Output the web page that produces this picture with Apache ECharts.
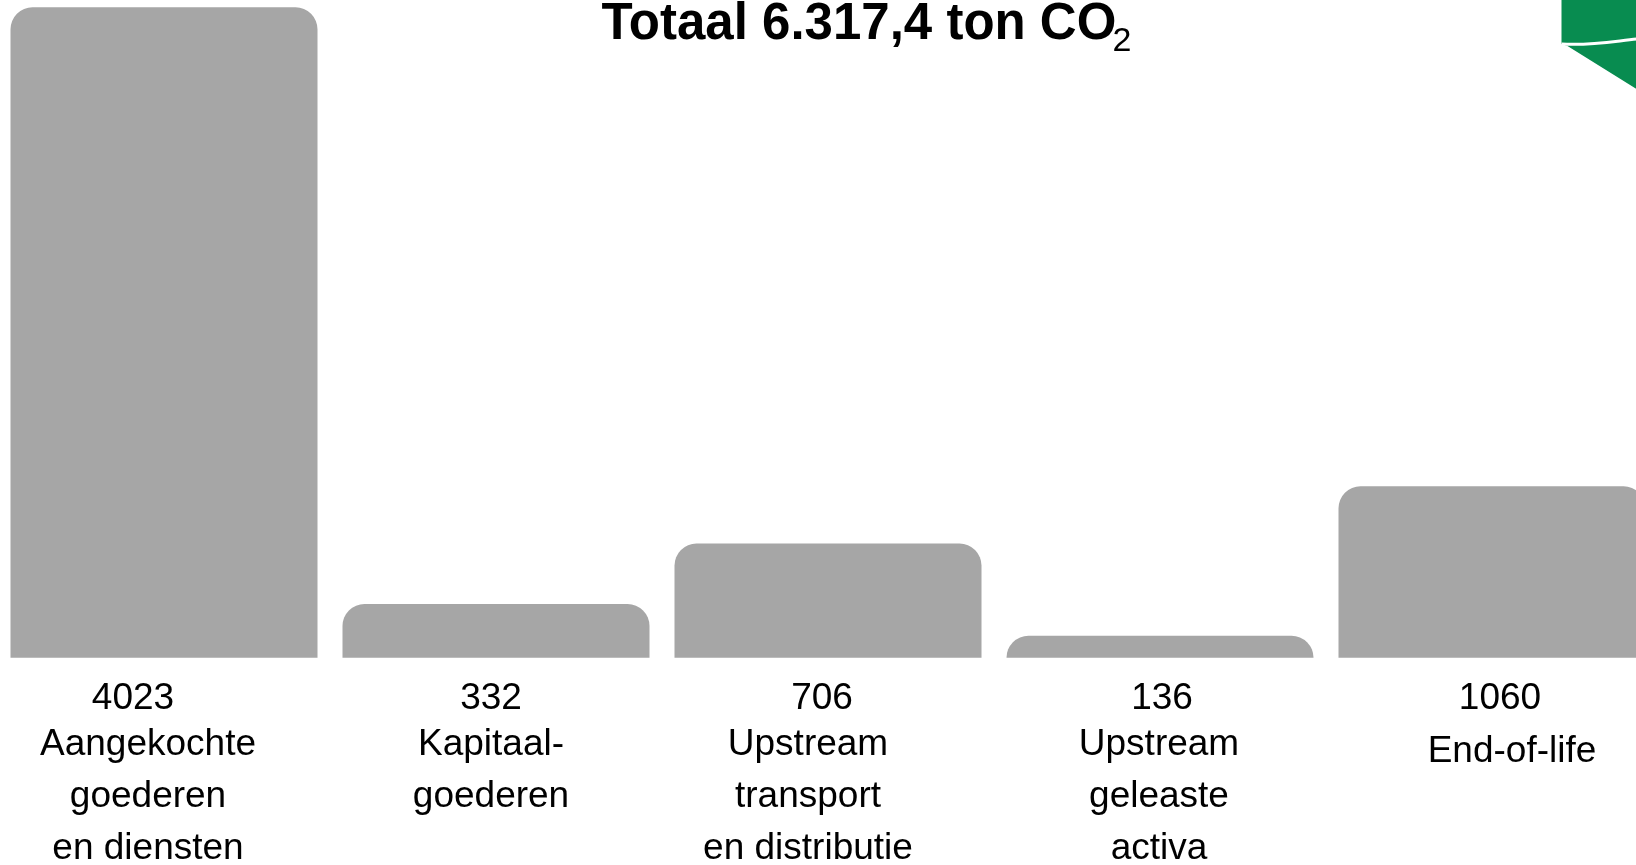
<!DOCTYPE html>
<html>
<head>
<meta charset="utf-8">
<script src="https://cdn.jsdelivr.net/npm/echarts@6/dist/echarts.min.js"></script>
<style>
html,body{margin:0;padding:0;background:#fff;overflow:hidden;width:1636px;height:865px;}
#chart{position:absolute;left:-2.5px;top:0;width:1660px;height:865px;}
</style>
</head>
<body>
<div id="chart"></div>
<script>
// ---- data ----
var categories = [
  'Aangekochte\ngoederen\nen diensten',
  'Kapitaal-\ngoederen',
  'Upstream\ntransport\nen distributie',
  'Upstream\ngeleaste\nactiva',
  'End-of-life'
];
var values = [4023, 332, 706, 136, 1060];
var titleMain = 'Totaal 6.317,4 ton CO';
var titleSub = '2';

// ---- label styling (shift of number / name relative to bar centre, px) ----
var numShift = [-31, -5, -6, 2, 8];
var nameShift = [-16, -5, -20, -1, 20];
var nameDrop = [0, 0, 0, 0, 14];
var OX = 2.5; // container is shifted left by this many px

var FONT = '"Liberation Sans", Arial, sans-serif';
var rich = {};
for (var i = 0; i < categories.length; i++) {
  var ns = numShift[i], cs = nameShift[i];
  rich['v' + i] = {
    fontSize: 37, lineHeight: 40, color: '#000', fontFamily: FONT,
    padding: ns < 0 ? [0, -2 * ns, 0, 0] : [0, 0, 0, 2 * ns]
  };
  rich['c' + i] = {
    fontSize: 37, lineHeight: 52, color: '#000', fontFamily: FONT,
    padding: cs < 0 ? [nameDrop[i], -2 * cs, 0, 0] : [nameDrop[i], 0, 0, 2 * cs]
  };
}

var chart = echarts.init(document.getElementById('chart'));
chart.setOption({
  animation: false,
  backgroundColor: '#ffffff',
  title: {
    text: titleMain,
    left: 601 + OX,
    top: 0,
    padding: 0,
    textStyle: { fontSize: 51, fontWeight: 'bold', lineHeight: 50, color: '#000', fontFamily: FONT }
  },
  grid: { left: 0, right: 0, top: 7.3, bottom: 207.3, containLabel: false, outerBoundsMode: 'none' },
  xAxis: {
    type: 'category',
    data: categories,
    axisLine: { show: false },
    axisTick: { show: false },
    axisLabel: {
      interval: 0,
      margin: 21,
      hideOverlap: false,
      formatter: function (val, idx) {
        var lines = val.split('\n').map(function (l) { return '{c' + idx + '|' + l + '}'; });
        return '{v' + idx + '|' + values[idx] + '}\n' + lines.join('\n');
      },
      rich: rich
    }
  },
  yAxis: { type: 'value', min: 0, max: 4023, show: false, splitLine: { show: false } },
  series: [{
    type: 'bar',
    data: values,
    barWidth: 307,
    itemStyle: { color: '#a6a6a6', borderRadius: [22, 22, 0, 0] },
    label: { show: false }
  }],
  graphic: [
    {
      type: 'text',
      style: {
        text: titleSub, x: 1112 + OX, y: 42,
        fontSize: 34, fontFamily: FONT, fill: '#000',
        textAlign: 'left', textVerticalAlign: 'middle', verticalAlign: 'middle'
      }
    },
    {
      type: 'polygon',
      shape: { points: [[1561 + OX, 0], [1636 + OX, 0], [1636 + OX, 89], [1567 + OX, 46], [1561 + OX, 44]] },
      style: { fill: '#088c50' }
    },
    {
      type: 'bezierCurve',
      shape: { x1: 1561 + OX, y1: 44, cpx1: 1590 + OX, cpy1: 46, cpx2: 1615 + OX, cpy2: 41, x2: 1636 + OX, y2: 39 },
      style: { stroke: '#ffffff', lineWidth: 3, fill: null }
    }
  ]
});
</script>
</body>
</html>
